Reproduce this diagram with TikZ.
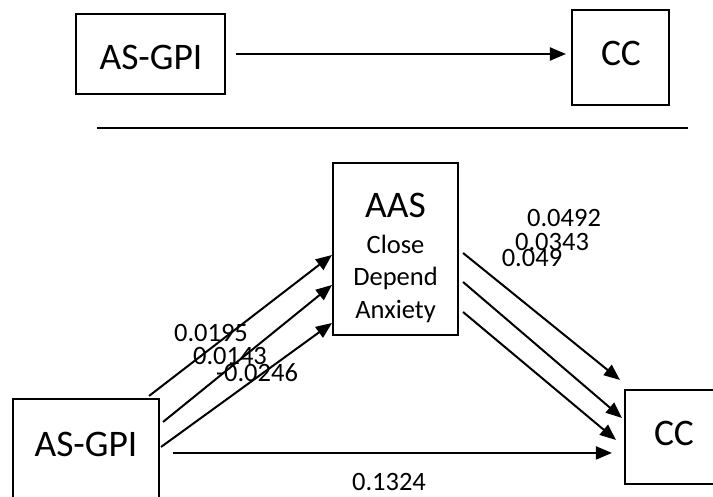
\documentclass[tikz,border=0pt]{standalone}
\usepackage{fontspec}
\setmainfont{Carlito}
\usetikzlibrary{arrows.meta}
\begin{document}
\begin{tikzpicture}[x=1pt,y=-1pt,
  box/.style={draw,line width=2.1pt,rectangle,inner sep=0pt},
  bigtxt/.style={font=\fontsize{37.5}{45}\selectfont,inner sep=0pt,anchor=base},
  smalltxt/.style={font=\fontsize{26.5}{31}\selectfont,inner sep=0pt},
  arr/.style={line width=2pt,-{Triangle[length=16pt,width=13pt]}}]
\useasboundingbox (0,0) rectangle (713,497);
\clip (0,0) rectangle (713,497);

% direct effect model
\node[box,minimum width=149pt,minimum height=80pt] (gpiT) at (150.5,54) {};
\node[bigtxt] (gpiTt) at (151,70) {AS-GPI};
\node[box,minimum width=97pt,minimum height=95pt] (ccT) at (620.5,57.5) {};
\node[bigtxt] (ccTt) at (621,66) {CC};
\draw[arr] ([xshift=10pt]gpiT.east) -- ([xshift=-5pt]gpiT.east -| ccT.west);

% separator
\coordinate (sepL) at (97,128);
\coordinate (sepR) at (688,128);
\draw[line width=1.4pt] (sepL) -- (sepR);

% mediation model
\node[box,minimum width=125pt,minimum height=172pt] (aas) at (395.5,249) {};
\node[bigtxt] (aasT) at (395.5,218) {AAS};
\node[smalltxt,anchor=base] (aas1) at (395.5,253.4) {Close};
\node[smalltxt,anchor=base] (aas2) at (395.5,285.9) {Depend};
\node[smalltxt,anchor=base] (aas3) at (395.5,318.4) {Anxiety};

\node[box,minimum width=146pt,minimum height=131pt] (gpi) at (86,464.5) {};
\node[bigtxt] (gpit) at (86,456) {AS-GPI};
\node[box,minimum width=98pt,minimum height=94pt] (cc) at (674,437) {};
\node[bigtxt] (cct) at (674,445) {CC};

% paths a
\draw[arr] ([xshift=-11pt,yshift=2pt]gpi.north east) -- ([yshift=-6pt]aas.west);
\draw[arr] ([xshift=3pt,yshift=-24pt]gpi.north east) -- ([yshift=-36pt]aas.west);
\draw[arr] ([xshift=1pt,yshift=-49pt]gpi.north east) -- ([yshift=-74pt]aas.west);

% paths b
\draw[arr] ([xshift=4pt,yshift=-4pt]aas.east) -- ([xshift=-4pt,yshift=9pt]cc.north west);
\draw[arr] ([xshift=4pt,yshift=-33pt]aas.east) -- ([xshift=-2pt,yshift=-29pt]cc.north west);
\draw[arr] ([xshift=4pt,yshift=-63pt]aas.east) -- ([xshift=-8pt,yshift=-51pt]cc.north west);

% path c'
\coordinate (hs) at ([xshift=13pt,yshift=-55pt]gpi.north east);
\draw[arr] (hs) -- ([xshift=-12pt]hs -| cc.west);

% coefficients
\node[smalltxt] (la1) at (211,333) {0.0195};
\node[smalltxt] (la2) at (230,356) {0.0143};
\node[smalltxt] (la3) at (257,373) {-0.0246};
\node[smalltxt] (lb1) at (564,218) {0.0492};
\node[smalltxt] (lb2) at (552,242) {0.0343};
\node[smalltxt] (lb3) at (532,258) {0.049};
\node[smalltxt] (lc) at (389,482) {0.1324};
\end{tikzpicture}
\end{document}
